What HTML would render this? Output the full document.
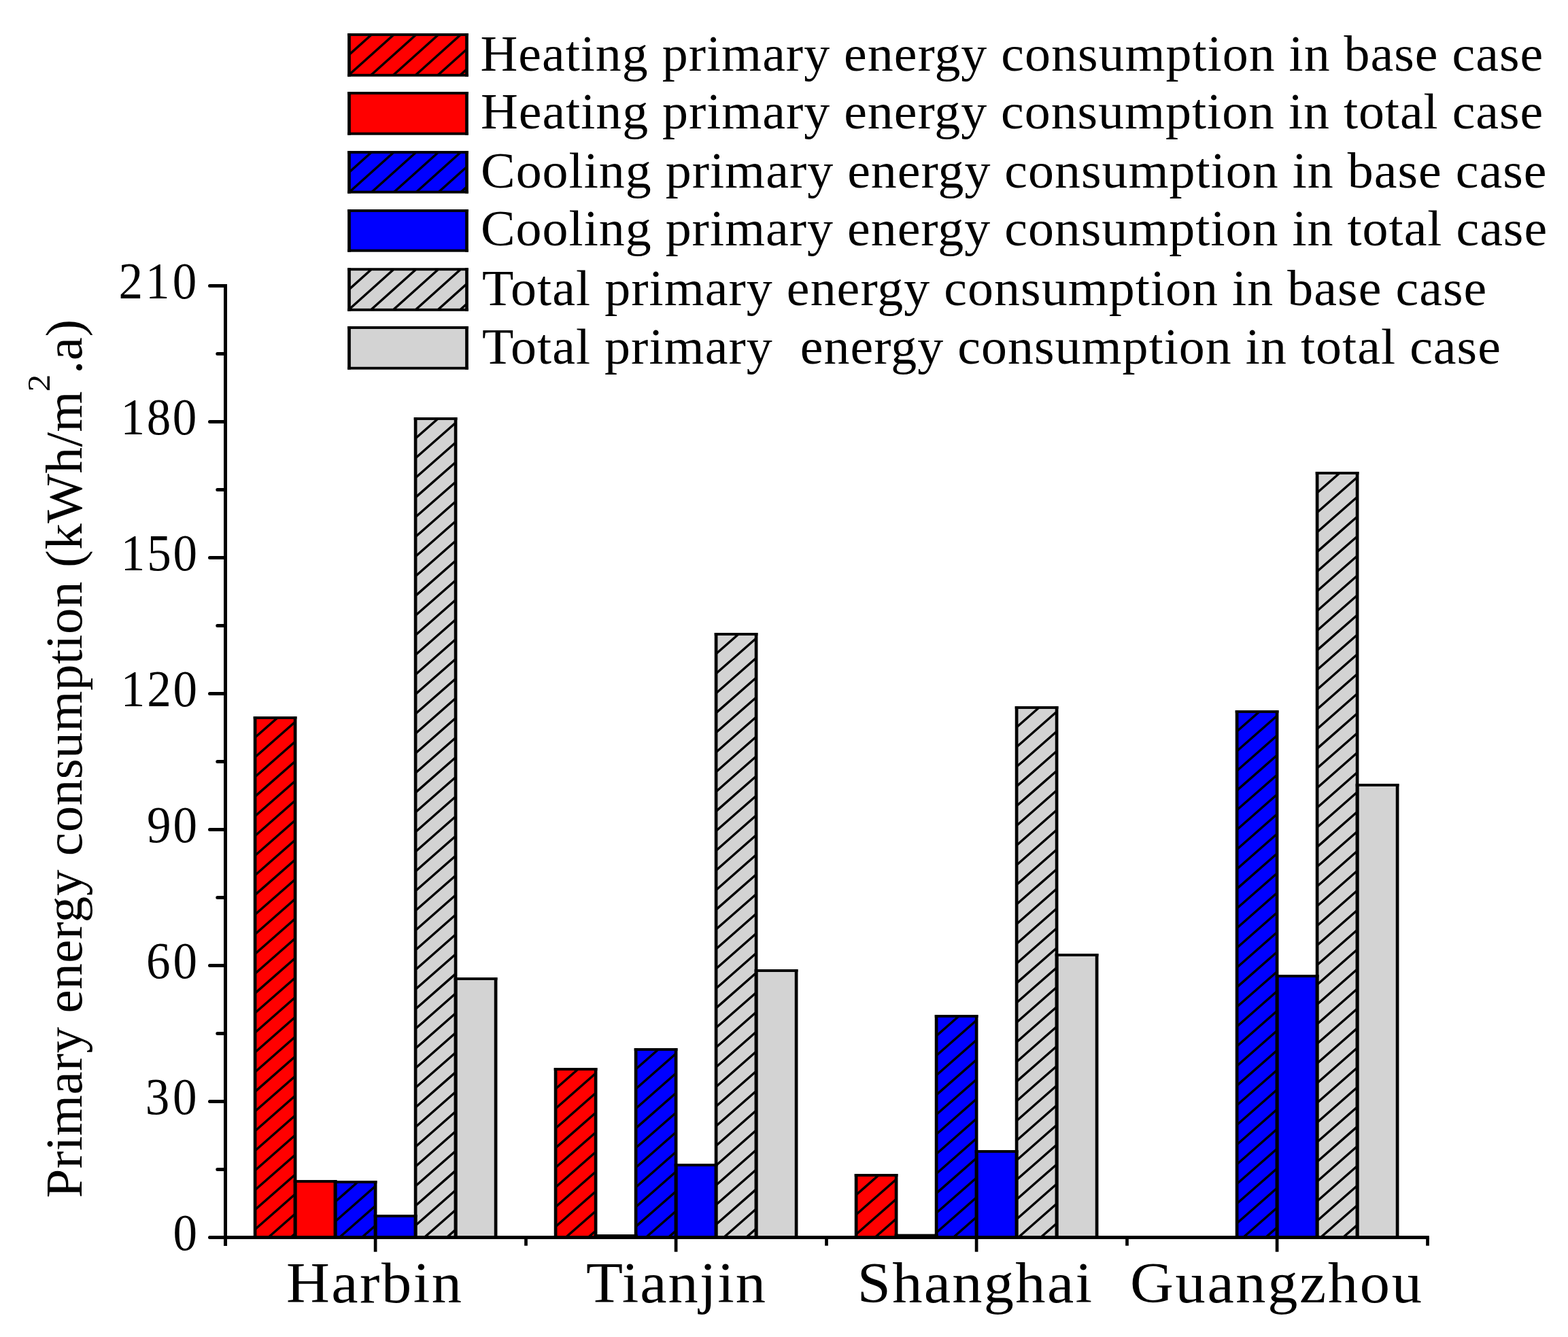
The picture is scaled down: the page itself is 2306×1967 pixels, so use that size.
<!DOCTYPE html><html><head><meta charset="utf-8"><title>Primary energy consumption chart</title><style>html,body{margin:0;padding:0;background:#fff;width:2306px;height:1967px;overflow:hidden}</style></head><body><svg width="2306" height="1967" viewBox="0 0 2306 1967" style="position:absolute;left:0;top:0">
<rect width="2306" height="1967" fill="#fff"/>
<defs><clipPath id="c1"><rect x="375.10" y="1056.00" width="59.00" height="764.50"/></clipPath><clipPath id="c2"><rect x="493.10" y="1739.00" width="59.00" height="81.50"/></clipPath><clipPath id="c3"><rect x="611.10" y="616.00" width="59.00" height="1204.50"/></clipPath><clipPath id="c4"><rect x="817.10" y="1573.00" width="59.00" height="247.50"/></clipPath><clipPath id="c5"><rect x="935.10" y="1544.00" width="59.00" height="276.50"/></clipPath><clipPath id="c6"><rect x="1053.10" y="933.00" width="59.00" height="887.50"/></clipPath><clipPath id="c7"><rect x="1259.10" y="1729.00" width="59.00" height="91.50"/></clipPath><clipPath id="c8"><rect x="1377.10" y="1495.00" width="59.00" height="325.50"/></clipPath><clipPath id="c9"><rect x="1495.10" y="1041.00" width="59.00" height="779.50"/></clipPath><clipPath id="c10"><rect x="1819.10" y="1047.00" width="59.00" height="773.50"/></clipPath><clipPath id="c11"><rect x="1937.10" y="696.00" width="59.00" height="1124.50"/></clipPath><clipPath id="c12"><rect x="513.50" y="51.00" width="173.00" height="59.70"/></clipPath><clipPath id="c13"><rect x="513.50" y="224.00" width="173.00" height="58.60"/></clipPath><clipPath id="c14"><rect x="513.50" y="396.20" width="173.00" height="59.60"/></clipPath></defs>
<rect x="375.10" y="1056.00" width="59.00" height="764.50" fill="#ff0000"/>
<path clip-path="url(#c1)" d="M369.10 1061.27L440.10 998.93M369.10 1090.22L440.10 1027.88M369.10 1119.17L440.10 1056.83M369.10 1148.11L440.10 1085.78M369.10 1177.06L440.10 1114.73M369.10 1206.01L440.10 1143.68M369.10 1234.96L440.10 1172.63M369.10 1263.91L440.10 1201.58M369.10 1292.86L440.10 1230.53M369.10 1321.81L440.10 1259.48M369.10 1350.76L440.10 1288.42M369.10 1379.71L440.10 1317.37M369.10 1408.66L440.10 1346.32M369.10 1437.60L440.10 1375.27M369.10 1466.55L440.10 1404.22M369.10 1495.50L440.10 1433.17M369.10 1524.45L440.10 1462.12M369.10 1553.40L440.10 1491.07M369.10 1582.35L440.10 1520.02M369.10 1611.30L440.10 1548.97M369.10 1640.25L440.10 1577.91M369.10 1669.20L440.10 1606.86M369.10 1698.15L440.10 1635.81M369.10 1727.09L440.10 1664.76M369.10 1756.04L440.10 1693.71M369.10 1784.99L440.10 1722.66M369.10 1813.94L440.10 1751.61M369.10 1842.89L440.10 1780.56M369.10 1871.84L440.10 1809.51" stroke="#000" stroke-width="3.4" fill="none"/>
<rect x="434.10" y="1738.00" width="59.00" height="82.50" fill="#ff0000"/>
<rect x="493.10" y="1739.00" width="59.00" height="81.50" fill="#0000ff"/>
<path clip-path="url(#c2)" d="M487.10 1744.27L558.10 1681.93M487.10 1773.22L558.10 1710.88M487.10 1802.17L558.10 1739.83M487.10 1831.11L558.10 1768.78M487.10 1860.06L558.10 1797.73" stroke="#000" stroke-width="3.4" fill="none"/>
<rect x="552.10" y="1789.00" width="59.00" height="31.50" fill="#0000ff"/>
<rect x="611.10" y="616.00" width="59.00" height="1204.50" fill="#d3d3d3"/>
<path clip-path="url(#c3)" d="M605.10 621.27L676.10 558.93M605.10 650.22L676.10 587.88M605.10 679.17L676.10 616.83M605.10 708.11L676.10 645.78M605.10 737.06L676.10 674.73M605.10 766.01L676.10 703.68M605.10 794.96L676.10 732.63M605.10 823.91L676.10 761.58M605.10 852.86L676.10 790.53M605.10 881.81L676.10 819.48M605.10 910.76L676.10 848.42M605.10 939.71L676.10 877.37M605.10 968.66L676.10 906.32M605.10 997.60L676.10 935.27M605.10 1026.55L676.10 964.22M605.10 1055.50L676.10 993.17M605.10 1084.45L676.10 1022.12M605.10 1113.40L676.10 1051.07M605.10 1142.35L676.10 1080.02M605.10 1171.30L676.10 1108.97M605.10 1200.25L676.10 1137.91M605.10 1229.20L676.10 1166.86M605.10 1258.15L676.10 1195.81M605.10 1287.09L676.10 1224.76M605.10 1316.04L676.10 1253.71M605.10 1344.99L676.10 1282.66M605.10 1373.94L676.10 1311.61M605.10 1402.89L676.10 1340.56M605.10 1431.84L676.10 1369.51M605.10 1460.79L676.10 1398.46M605.10 1489.74L676.10 1427.40M605.10 1518.69L676.10 1456.35M605.10 1547.64L676.10 1485.30M605.10 1576.58L676.10 1514.25M605.10 1605.53L676.10 1543.20M605.10 1634.48L676.10 1572.15M605.10 1663.43L676.10 1601.10M605.10 1692.38L676.10 1630.05M605.10 1721.33L676.10 1659.00M605.10 1750.28L676.10 1687.95M605.10 1779.23L676.10 1716.89M605.10 1808.18L676.10 1745.84M605.10 1837.13L676.10 1774.79M605.10 1866.07L676.10 1803.74" stroke="#000" stroke-width="3.4" fill="none"/>
<rect x="670.10" y="1440.00" width="59.00" height="380.50" fill="#d3d3d3"/>
<rect x="817.10" y="1573.00" width="59.00" height="247.50" fill="#ff0000"/>
<path clip-path="url(#c4)" d="M811.10 1578.27L882.10 1515.93M811.10 1607.22L882.10 1544.88M811.10 1636.17L882.10 1573.83M811.10 1665.11L882.10 1602.78M811.10 1694.06L882.10 1631.73M811.10 1723.01L882.10 1660.68M811.10 1751.96L882.10 1689.63M811.10 1780.91L882.10 1718.58M811.10 1809.86L882.10 1747.53M811.10 1838.81L882.10 1776.48M811.10 1867.76L882.10 1805.42" stroke="#000" stroke-width="3.4" fill="none"/>
<rect x="876.10" y="1818.00" width="59.00" height="2.50" fill="#ff0000"/>
<rect x="935.10" y="1544.00" width="59.00" height="276.50" fill="#0000ff"/>
<path clip-path="url(#c5)" d="M929.10 1549.27L1000.10 1486.93M929.10 1578.22L1000.10 1515.88M929.10 1607.17L1000.10 1544.83M929.10 1636.11L1000.10 1573.78M929.10 1665.06L1000.10 1602.73M929.10 1694.01L1000.10 1631.68M929.10 1722.96L1000.10 1660.63M929.10 1751.91L1000.10 1689.58M929.10 1780.86L1000.10 1718.53M929.10 1809.81L1000.10 1747.48M929.10 1838.76L1000.10 1776.42M929.10 1867.71L1000.10 1805.37" stroke="#000" stroke-width="3.4" fill="none"/>
<rect x="994.10" y="1714.00" width="59.00" height="106.50" fill="#0000ff"/>
<rect x="1053.10" y="933.00" width="59.00" height="887.50" fill="#d3d3d3"/>
<path clip-path="url(#c6)" d="M1047.10 938.27L1118.10 875.93M1047.10 967.22L1118.10 904.88M1047.10 996.17L1118.10 933.83M1047.10 1025.11L1118.10 962.78M1047.10 1054.06L1118.10 991.73M1047.10 1083.01L1118.10 1020.68M1047.10 1111.96L1118.10 1049.63M1047.10 1140.91L1118.10 1078.58M1047.10 1169.86L1118.10 1107.53M1047.10 1198.81L1118.10 1136.48M1047.10 1227.76L1118.10 1165.42M1047.10 1256.71L1118.10 1194.37M1047.10 1285.66L1118.10 1223.32M1047.10 1314.60L1118.10 1252.27M1047.10 1343.55L1118.10 1281.22M1047.10 1372.50L1118.10 1310.17M1047.10 1401.45L1118.10 1339.12M1047.10 1430.40L1118.10 1368.07M1047.10 1459.35L1118.10 1397.02M1047.10 1488.30L1118.10 1425.97M1047.10 1517.25L1118.10 1454.91M1047.10 1546.20L1118.10 1483.86M1047.10 1575.15L1118.10 1512.81M1047.10 1604.09L1118.10 1541.76M1047.10 1633.04L1118.10 1570.71M1047.10 1661.99L1118.10 1599.66M1047.10 1690.94L1118.10 1628.61M1047.10 1719.89L1118.10 1657.56M1047.10 1748.84L1118.10 1686.51M1047.10 1777.79L1118.10 1715.46M1047.10 1806.74L1118.10 1744.40M1047.10 1835.69L1118.10 1773.35M1047.10 1864.64L1118.10 1802.30" stroke="#000" stroke-width="3.4" fill="none"/>
<rect x="1112.10" y="1428.00" width="59.00" height="392.50" fill="#d3d3d3"/>
<rect x="1259.10" y="1729.00" width="59.00" height="91.50" fill="#ff0000"/>
<path clip-path="url(#c7)" d="M1253.10 1734.27L1324.10 1671.93M1253.10 1763.22L1324.10 1700.88M1253.10 1792.17L1324.10 1729.83M1253.10 1821.11L1324.10 1758.78M1253.10 1850.06L1324.10 1787.73M1253.10 1879.01L1324.10 1816.68" stroke="#000" stroke-width="3.4" fill="none"/>
<rect x="1318.10" y="1817.50" width="59.00" height="3.00" fill="#ff0000"/>
<rect x="1377.10" y="1495.00" width="59.00" height="325.50" fill="#0000ff"/>
<path clip-path="url(#c8)" d="M1371.10 1500.27L1442.10 1437.93M1371.10 1529.22L1442.10 1466.88M1371.10 1558.17L1442.10 1495.83M1371.10 1587.11L1442.10 1524.78M1371.10 1616.06L1442.10 1553.73M1371.10 1645.01L1442.10 1582.68M1371.10 1673.96L1442.10 1611.63M1371.10 1702.91L1442.10 1640.58M1371.10 1731.86L1442.10 1669.53M1371.10 1760.81L1442.10 1698.48M1371.10 1789.76L1442.10 1727.42M1371.10 1818.71L1442.10 1756.37M1371.10 1847.66L1442.10 1785.32M1371.10 1876.60L1442.10 1814.27" stroke="#000" stroke-width="3.4" fill="none"/>
<rect x="1436.10" y="1694.00" width="59.00" height="126.50" fill="#0000ff"/>
<rect x="1495.10" y="1041.00" width="59.00" height="779.50" fill="#d3d3d3"/>
<path clip-path="url(#c9)" d="M1489.10 1046.27L1560.10 983.93M1489.10 1075.22L1560.10 1012.88M1489.10 1104.17L1560.10 1041.83M1489.10 1133.11L1560.10 1070.78M1489.10 1162.06L1560.10 1099.73M1489.10 1191.01L1560.10 1128.68M1489.10 1219.96L1560.10 1157.63M1489.10 1248.91L1560.10 1186.58M1489.10 1277.86L1560.10 1215.53M1489.10 1306.81L1560.10 1244.48M1489.10 1335.76L1560.10 1273.42M1489.10 1364.71L1560.10 1302.37M1489.10 1393.66L1560.10 1331.32M1489.10 1422.60L1560.10 1360.27M1489.10 1451.55L1560.10 1389.22M1489.10 1480.50L1560.10 1418.17M1489.10 1509.45L1560.10 1447.12M1489.10 1538.40L1560.10 1476.07M1489.10 1567.35L1560.10 1505.02M1489.10 1596.30L1560.10 1533.97M1489.10 1625.25L1560.10 1562.91M1489.10 1654.20L1560.10 1591.86M1489.10 1683.15L1560.10 1620.81M1489.10 1712.09L1560.10 1649.76M1489.10 1741.04L1560.10 1678.71M1489.10 1769.99L1560.10 1707.66M1489.10 1798.94L1560.10 1736.61M1489.10 1827.89L1560.10 1765.56M1489.10 1856.84L1560.10 1794.51M1489.10 1885.79L1560.10 1823.46" stroke="#000" stroke-width="3.4" fill="none"/>
<rect x="1554.10" y="1405.00" width="59.00" height="415.50" fill="#d3d3d3"/>
<rect x="1819.10" y="1047.00" width="59.00" height="773.50" fill="#0000ff"/>
<path clip-path="url(#c10)" d="M1813.10 1052.27L1884.10 989.93M1813.10 1081.22L1884.10 1018.88M1813.10 1110.17L1884.10 1047.83M1813.10 1139.11L1884.10 1076.78M1813.10 1168.06L1884.10 1105.73M1813.10 1197.01L1884.10 1134.68M1813.10 1225.96L1884.10 1163.63M1813.10 1254.91L1884.10 1192.58M1813.10 1283.86L1884.10 1221.53M1813.10 1312.81L1884.10 1250.48M1813.10 1341.76L1884.10 1279.42M1813.10 1370.71L1884.10 1308.37M1813.10 1399.66L1884.10 1337.32M1813.10 1428.60L1884.10 1366.27M1813.10 1457.55L1884.10 1395.22M1813.10 1486.50L1884.10 1424.17M1813.10 1515.45L1884.10 1453.12M1813.10 1544.40L1884.10 1482.07M1813.10 1573.35L1884.10 1511.02M1813.10 1602.30L1884.10 1539.97M1813.10 1631.25L1884.10 1568.91M1813.10 1660.20L1884.10 1597.86M1813.10 1689.15L1884.10 1626.81M1813.10 1718.09L1884.10 1655.76M1813.10 1747.04L1884.10 1684.71M1813.10 1775.99L1884.10 1713.66M1813.10 1804.94L1884.10 1742.61M1813.10 1833.89L1884.10 1771.56M1813.10 1862.84L1884.10 1800.51" stroke="#000" stroke-width="3.4" fill="none"/>
<rect x="1878.10" y="1436.00" width="59.00" height="384.50" fill="#0000ff"/>
<rect x="1937.10" y="696.00" width="59.00" height="1124.50" fill="#d3d3d3"/>
<path clip-path="url(#c11)" d="M1931.10 701.27L2002.10 638.93M1931.10 730.22L2002.10 667.88M1931.10 759.17L2002.10 696.83M1931.10 788.11L2002.10 725.78M1931.10 817.06L2002.10 754.73M1931.10 846.01L2002.10 783.68M1931.10 874.96L2002.10 812.63M1931.10 903.91L2002.10 841.58M1931.10 932.86L2002.10 870.53M1931.10 961.81L2002.10 899.48M1931.10 990.76L2002.10 928.42M1931.10 1019.71L2002.10 957.37M1931.10 1048.66L2002.10 986.32M1931.10 1077.60L2002.10 1015.27M1931.10 1106.55L2002.10 1044.22M1931.10 1135.50L2002.10 1073.17M1931.10 1164.45L2002.10 1102.12M1931.10 1193.40L2002.10 1131.07M1931.10 1222.35L2002.10 1160.02M1931.10 1251.30L2002.10 1188.97M1931.10 1280.25L2002.10 1217.91M1931.10 1309.20L2002.10 1246.86M1931.10 1338.15L2002.10 1275.81M1931.10 1367.09L2002.10 1304.76M1931.10 1396.04L2002.10 1333.71M1931.10 1424.99L2002.10 1362.66M1931.10 1453.94L2002.10 1391.61M1931.10 1482.89L2002.10 1420.56M1931.10 1511.84L2002.10 1449.51M1931.10 1540.79L2002.10 1478.46M1931.10 1569.74L2002.10 1507.40M1931.10 1598.69L2002.10 1536.35M1931.10 1627.64L2002.10 1565.30M1931.10 1656.58L2002.10 1594.25M1931.10 1685.53L2002.10 1623.20M1931.10 1714.48L2002.10 1652.15M1931.10 1743.43L2002.10 1681.10M1931.10 1772.38L2002.10 1710.05M1931.10 1801.33L2002.10 1739.00M1931.10 1830.28L2002.10 1767.95M1931.10 1859.23L2002.10 1796.89M1931.10 1888.18L2002.10 1825.84" stroke="#000" stroke-width="3.4" fill="none"/>
<rect x="1996.10" y="1155.00" width="59.00" height="665.50" fill="#d3d3d3"/>
<g fill="#000">
<rect x="372.75" y="1054.05" width="63.70" height="3.9"/>
<rect x="372.75" y="1054.05" width="4.7" height="766.45"/>
<rect x="431.75" y="1054.05" width="4.7" height="766.45"/>
<rect x="431.75" y="1736.05" width="63.70" height="3.9"/>
<rect x="431.75" y="1736.05" width="4.7" height="84.45"/>
<rect x="490.75" y="1736.05" width="4.7" height="84.45"/>
<rect x="490.75" y="1737.05" width="63.70" height="3.9"/>
<rect x="490.75" y="1737.05" width="4.7" height="83.45"/>
<rect x="549.75" y="1737.05" width="4.7" height="83.45"/>
<rect x="549.75" y="1787.05" width="63.70" height="3.9"/>
<rect x="549.75" y="1787.05" width="4.7" height="33.45"/>
<rect x="608.75" y="1787.05" width="4.7" height="33.45"/>
<rect x="608.75" y="614.05" width="63.70" height="3.9"/>
<rect x="608.75" y="614.05" width="4.7" height="1206.45"/>
<rect x="667.75" y="614.05" width="4.7" height="1206.45"/>
<rect x="667.75" y="1438.05" width="63.70" height="3.9"/>
<rect x="667.75" y="1438.05" width="4.7" height="382.45"/>
<rect x="726.75" y="1438.05" width="4.7" height="382.45"/>
<rect x="814.75" y="1571.05" width="63.70" height="3.9"/>
<rect x="814.75" y="1571.05" width="4.7" height="249.45"/>
<rect x="873.75" y="1571.05" width="4.7" height="249.45"/>
<rect x="873.75" y="1816.05" width="63.70" height="3.9"/>
<rect x="873.75" y="1816.05" width="4.7" height="4.45"/>
<rect x="932.75" y="1816.05" width="4.7" height="4.45"/>
<rect x="932.75" y="1542.05" width="63.70" height="3.9"/>
<rect x="932.75" y="1542.05" width="4.7" height="278.45"/>
<rect x="991.75" y="1542.05" width="4.7" height="278.45"/>
<rect x="991.75" y="1712.05" width="63.70" height="3.9"/>
<rect x="991.75" y="1712.05" width="4.7" height="108.45"/>
<rect x="1050.75" y="1712.05" width="4.7" height="108.45"/>
<rect x="1050.75" y="931.05" width="63.70" height="3.9"/>
<rect x="1050.75" y="931.05" width="4.7" height="889.45"/>
<rect x="1109.75" y="931.05" width="4.7" height="889.45"/>
<rect x="1109.75" y="1426.05" width="63.70" height="3.9"/>
<rect x="1109.75" y="1426.05" width="4.7" height="394.45"/>
<rect x="1168.75" y="1426.05" width="4.7" height="394.45"/>
<rect x="1256.75" y="1727.05" width="63.70" height="3.9"/>
<rect x="1256.75" y="1727.05" width="4.7" height="93.45"/>
<rect x="1315.75" y="1727.05" width="4.7" height="93.45"/>
<rect x="1315.75" y="1815.55" width="63.70" height="3.9"/>
<rect x="1315.75" y="1815.55" width="4.7" height="4.95"/>
<rect x="1374.75" y="1815.55" width="4.7" height="4.95"/>
<rect x="1374.75" y="1493.05" width="63.70" height="3.9"/>
<rect x="1374.75" y="1493.05" width="4.7" height="327.45"/>
<rect x="1433.75" y="1493.05" width="4.7" height="327.45"/>
<rect x="1433.75" y="1692.05" width="63.70" height="3.9"/>
<rect x="1433.75" y="1692.05" width="4.7" height="128.45"/>
<rect x="1492.75" y="1692.05" width="4.7" height="128.45"/>
<rect x="1492.75" y="1039.05" width="63.70" height="3.9"/>
<rect x="1492.75" y="1039.05" width="4.7" height="781.45"/>
<rect x="1551.75" y="1039.05" width="4.7" height="781.45"/>
<rect x="1551.75" y="1403.05" width="63.70" height="3.9"/>
<rect x="1551.75" y="1403.05" width="4.7" height="417.45"/>
<rect x="1610.75" y="1403.05" width="4.7" height="417.45"/>
<rect x="1816.75" y="1045.05" width="63.70" height="3.9"/>
<rect x="1816.75" y="1045.05" width="4.7" height="775.45"/>
<rect x="1875.75" y="1045.05" width="4.7" height="775.45"/>
<rect x="1875.75" y="1434.05" width="63.70" height="3.9"/>
<rect x="1875.75" y="1434.05" width="4.7" height="386.45"/>
<rect x="1934.75" y="1434.05" width="4.7" height="386.45"/>
<rect x="1934.75" y="694.05" width="63.70" height="3.9"/>
<rect x="1934.75" y="694.05" width="4.7" height="1126.45"/>
<rect x="1993.75" y="694.05" width="4.7" height="1126.45"/>
<rect x="1993.75" y="1153.05" width="63.70" height="3.9"/>
<rect x="1993.75" y="1153.05" width="4.7" height="667.45"/>
<rect x="2052.75" y="1153.05" width="4.7" height="667.45"/>
</g>
<rect x="513.50" y="51.00" width="173.00" height="59.70" fill="#ff0000"/>
<path clip-path="url(#c12)" d="M507.50 56.39L692.50 -109.66M507.50 85.83L692.50 -80.22M507.50 115.27L692.50 -50.78M507.50 144.71L692.50 -21.34M507.50 174.15L692.50 8.10M507.50 203.59L692.50 37.54M507.50 233.03L692.50 66.98M507.50 262.47L692.50 96.42" stroke="#000" stroke-width="3.4" fill="none"/>
<rect x="513.5" y="137.0" width="173.0" height="59.70" fill="#ff0000"/>
<rect x="513.50" y="224.00" width="173.00" height="58.60" fill="#0000ff"/>
<path clip-path="url(#c13)" d="M507.50 229.39L692.50 63.34M507.50 258.83L692.50 92.78M507.50 288.27L692.50 122.22M507.50 317.71L692.50 151.66M507.50 347.15L692.50 181.10M507.50 376.59L692.50 210.54M507.50 406.03L692.50 239.98M507.50 435.47L692.50 269.42" stroke="#000" stroke-width="3.4" fill="none"/>
<rect x="513.5" y="310.0" width="173.0" height="58.70" fill="#0000ff"/>
<rect x="513.50" y="396.20" width="173.00" height="59.60" fill="#d3d3d3"/>
<path clip-path="url(#c14)" d="M507.50 401.59L692.50 235.54M507.50 431.03L692.50 264.98M507.50 460.47L692.50 294.42M507.50 489.91L692.50 323.86M507.50 519.35L692.50 353.30M507.50 548.79L692.50 382.74M507.50 578.23L692.50 412.18M507.50 607.67L692.50 441.62" stroke="#000" stroke-width="3.4" fill="none"/>
<rect x="513.5" y="482.0" width="173.0" height="59.70" fill="#d3d3d3"/>
<g fill="#000">
<rect x="511.15" y="49.05" width="177.70" height="3.9"/>
<rect x="511.15" y="108.75" width="177.70" height="3.9"/>
<rect x="511.15" y="49.05" width="4.7" height="63.60"/>
<rect x="684.15" y="49.05" width="4.7" height="63.60"/>
<rect x="511.15" y="135.05" width="177.70" height="3.9"/>
<rect x="511.15" y="194.75" width="177.70" height="3.9"/>
<rect x="511.15" y="135.05" width="4.7" height="63.60"/>
<rect x="684.15" y="135.05" width="4.7" height="63.60"/>
<rect x="511.15" y="222.05" width="177.70" height="3.9"/>
<rect x="511.15" y="280.65" width="177.70" height="3.9"/>
<rect x="511.15" y="222.05" width="4.7" height="62.50"/>
<rect x="684.15" y="222.05" width="4.7" height="62.50"/>
<rect x="511.15" y="308.05" width="177.70" height="3.9"/>
<rect x="511.15" y="366.75" width="177.70" height="3.9"/>
<rect x="511.15" y="308.05" width="4.7" height="62.60"/>
<rect x="684.15" y="308.05" width="4.7" height="62.60"/>
<rect x="511.15" y="394.25" width="177.70" height="3.9"/>
<rect x="511.15" y="453.85" width="177.70" height="3.9"/>
<rect x="511.15" y="394.25" width="4.7" height="63.50"/>
<rect x="684.15" y="394.25" width="4.7" height="63.50"/>
<rect x="511.15" y="480.05" width="177.70" height="3.9"/>
<rect x="511.15" y="539.75" width="177.70" height="3.9"/>
<rect x="511.15" y="480.05" width="4.7" height="63.60"/>
<rect x="684.15" y="480.05" width="4.7" height="63.60"/>
</g>
<g stroke="#000" stroke-width="5" fill="none">
<line x1="331.5" y1="418" x2="331.5" y2="1833"/>
<line x1="329.0" y1="1820.5" x2="2101.8" y2="1820.5"/>
</g>
<g stroke="#000" stroke-width="5" stroke-linecap="round">
<line x1="308.5" y1="420.5" x2="331.0" y2="420.5"/>
<line x1="308.5" y1="620.5" x2="331.0" y2="620.5"/>
<line x1="308.5" y1="820.5" x2="331.0" y2="820.5"/>
<line x1="308.5" y1="1020.5" x2="331.0" y2="1020.5"/>
<line x1="308.5" y1="1220.5" x2="331.0" y2="1220.5"/>
<line x1="308.5" y1="1420.5" x2="331.0" y2="1420.5"/>
<line x1="308.5" y1="1620.5" x2="331.0" y2="1620.5"/>
<line x1="308.5" y1="1820.5" x2="331.0" y2="1820.5"/>
<line x1="319.8" y1="1720.5" x2="331.0" y2="1720.5"/>
<line x1="319.8" y1="1520.5" x2="331.0" y2="1520.5"/>
<line x1="319.8" y1="1320.5" x2="331.0" y2="1320.5"/>
<line x1="319.8" y1="1120.5" x2="331.0" y2="1120.5"/>
<line x1="319.8" y1="920.5" x2="331.0" y2="920.5"/>
<line x1="319.8" y1="720.5" x2="331.0" y2="720.5"/>
<line x1="319.8" y1="520.5" x2="331.0" y2="520.5"/>
</g>
<g fill="#000">
<rect x="549.75" y="1820.5" width="4.7" height="21.20"/>
<rect x="771.15" y="1820.5" width="4.7" height="12.20"/>
<rect x="991.75" y="1820.5" width="4.7" height="21.20"/>
<rect x="1213.15" y="1820.5" width="4.7" height="12.20"/>
<rect x="1433.75" y="1820.5" width="4.7" height="21.20"/>
<rect x="1655.15" y="1820.5" width="4.7" height="12.20"/>
<rect x="1875.75" y="1820.5" width="4.7" height="21.20"/>
<rect x="2097.15" y="1820.5" width="4.7" height="12.20"/>
</g>
<g font-family="Liberation Serif, Times New Roman, serif" fill="#000">
<text transform="translate(706.40 103.60) scale(1.04 1)" font-size="73" textLength="1502.69" lengthAdjust="spacing" xml:space="preserve">Heating primary energy consumption in base case</text>
<text transform="translate(707.00 188.90) scale(1.04 1)" font-size="73" textLength="1502.12" lengthAdjust="spacing" xml:space="preserve">Heating primary energy consumption in total case</text>
<text transform="translate(707.00 275.90) scale(1.04 1)" font-size="73" textLength="1507.12" lengthAdjust="spacing" xml:space="preserve">Cooling primary energy consumption in base case</text>
<text transform="translate(707.00 361.30) scale(1.04 1)" font-size="73" textLength="1507.79" lengthAdjust="spacing" xml:space="preserve">Cooling primary energy consumption in total case</text>
<text transform="translate(709.00 449.10) scale(1.04 1)" font-size="73" textLength="1420.38" lengthAdjust="spacing" xml:space="preserve">Total primary energy consumption in base case</text>
<text transform="translate(709.00 534.50) scale(1.04 1)" font-size="73" textLength="1440.29" lengthAdjust="spacing" xml:space="preserve">Total primary  energy consumption in total case</text>
<text transform="translate(174.40 438.90) scale(0.935 1)" font-size="76" textLength="122.89" lengthAdjust="spacing" xml:space="preserve">210</text>
<text transform="translate(177.60 638.90) scale(0.935 1)" font-size="76" textLength="119.36" lengthAdjust="spacing" xml:space="preserve">180</text>
<text transform="translate(177.80 838.90) scale(0.935 1)" font-size="76" textLength="120.11" lengthAdjust="spacing" xml:space="preserve">150</text>
<text transform="translate(177.80 1038.90) scale(0.935 1)" font-size="76" textLength="120.11" lengthAdjust="spacing" xml:space="preserve">120</text>
<text transform="translate(216.00 1238.90) scale(0.935 1)" font-size="76" textLength="79.14" lengthAdjust="spacing" xml:space="preserve">90</text>
<text transform="translate(215.00 1438.90) scale(0.935 1)" font-size="76" textLength="80.21" lengthAdjust="spacing" xml:space="preserve">60</text>
<text transform="translate(213.80 1638.90) scale(0.935 1)" font-size="76" textLength="81.07" lengthAdjust="spacing" xml:space="preserve">30</text>
<text transform="translate(254.60 1838.90) scale(0.935 1)" font-size="76" xml:space="preserve">0</text>
<text transform="translate(421.00 1915.80) scale(1.04 1)" font-size="85" textLength="248.08" lengthAdjust="spacing" xml:space="preserve">Harbin</text>
<text transform="translate(861.90 1915.80) scale(1.04 1)" font-size="85" textLength="253.94" lengthAdjust="spacing" xml:space="preserve">Tianjin</text>
<text transform="translate(1260.70 1915.80) scale(1.04 1)" font-size="85" textLength="332.02" lengthAdjust="spacing" xml:space="preserve">Shanghai</text>
<text transform="translate(1662.10 1915.80) scale(1.04 1)" font-size="85" textLength="412.31" lengthAdjust="spacing" xml:space="preserve">Guangzhou</text>
<text transform="translate(119.70 1762.60) rotate(-90)" font-size="77" textLength="1187.10" lengthAdjust="spacing" xml:space="preserve">Primary energy consumption (kWh/m</text>
<text transform="translate(72.80 576.20) rotate(-90) scale(1.09 1)" font-size="47" xml:space="preserve">2</text>
<text transform="translate(119.70 550.00) rotate(-90)" font-size="77" textLength="80.25" lengthAdjust="spacing" xml:space="preserve">.a)</text>
</g>
</svg></body></html>
